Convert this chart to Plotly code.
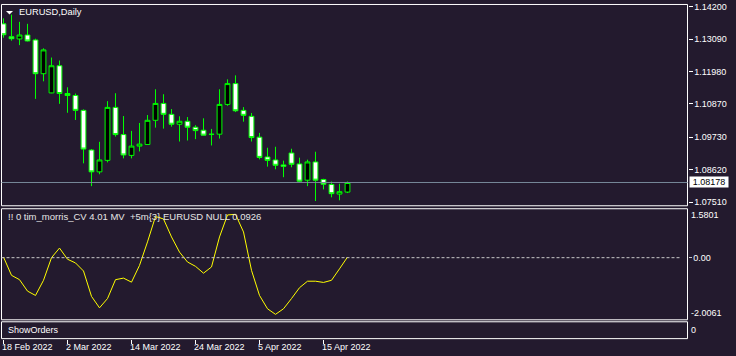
import plotly.graph_objects as go

W, H = 736, 356

dates = ["2022-02-18", "2022-02-21", "2022-02-22", "2022-02-23", "2022-02-24", "2022-02-25",
         "2022-02-28", "2022-03-01", "2022-03-02", "2022-03-03", "2022-03-04", "2022-03-07",
         "2022-03-08", "2022-03-09", "2022-03-10", "2022-03-11", "2022-03-14", "2022-03-15",
         "2022-03-16", "2022-03-17", "2022-03-18", "2022-03-21", "2022-03-22", "2022-03-23",
         "2022-03-24", "2022-03-25", "2022-03-28", "2022-03-29", "2022-03-30", "2022-03-31",
         "2022-04-01", "2022-04-04", "2022-04-05", "2022-04-06", "2022-04-07", "2022-04-08",
         "2022-04-11", "2022-04-12", "2022-04-13", "2022-04-14", "2022-04-15", "2022-04-18",
         "2022-04-19", "2022-04-20"]

opens = [1.13612, 1.13171, 1.13093, 1.13229, 1.13059, 1.11904, 1.11246, 1.12176, 1.11225, 1.11157,
         1.10648, 1.09290, 1.08542, 1.08936, 1.10750, 1.09819, 1.09106, 1.09425, 1.09480, 1.10308,
         1.10886, 1.10512, 1.10173, 1.10274, 1.10071, 1.09969, 1.09833, 1.09833, 1.10852, 1.11565,
         1.10648, 1.10444, 1.09731, 1.09052, 1.08950, 1.08780, 1.09188, 1.08814, 1.08257, 1.08882,
         1.08281, 1.08111, 1.07782, 1.07850]
highs = [1.13799, 1.13928, 1.13680, 1.13612, 1.13103, 1.12774, 1.12458, 1.12356, 1.11439, 1.11225,
         1.10682, 1.09323, 1.09571, 1.10964, 1.11235, 1.10454, 1.09945, 1.10217, 1.10488, 1.11371,
         1.11201, 1.10692, 1.10444, 1.10420, 1.10139, 1.10376, 1.10013, 1.11371, 1.11711, 1.11847,
         1.10760, 1.10556, 1.09877, 1.09368, 1.09402, 1.08926, 1.09334, 1.09028, 1.08960, 1.09232,
         1.08305, 1.08213, 1.08135, 1.08213]
lows = [1.13137, 1.13035, 1.12882, 1.13008, 1.11042, 1.11643, 1.11235, 1.10872, 1.10566, 1.10319,
        1.08834, 1.08053, 1.08461, 1.08868, 1.09751, 1.09004, 1.09004, 1.09242, 1.09470, 1.10057,
        1.10023, 1.10091, 1.09582, 1.09616, 1.09663, 1.09789, 1.09446, 1.09683, 1.10804, 1.10590,
        1.10261, 1.09582, 1.08970, 1.08722, 1.08631, 1.08359, 1.08699, 1.08179, 1.08053, 1.07544,
        1.07941, 1.07670, 1.07568, 1.07816]
closes = [1.13239, 1.13103, 1.13229, 1.13025, 1.11904, 1.12719, 1.12176, 1.11225, 1.11157, 1.10648,
          1.09323, 1.08542, 1.08950, 1.10750, 1.09819, 1.09120, 1.09425, 1.09493, 1.10308, 1.10886,
          1.10512, 1.10173, 1.10274, 1.10071, 1.09955, 1.09799, 1.09826, 1.10852, 1.11565, 1.10634,
          1.10478, 1.09717, 1.09038, 1.08936, 1.08767, 1.08733, 1.08801, 1.08223, 1.08882, 1.08257,
          1.08121, 1.07795, 1.07863, 1.08178]

cv_values = [0.02, -0.57, -0.71, -1.08, -1.22, -0.73, 0.00, 0.31, -0.05, -0.17,
             -0.43, -1.25, -1.62, -1.32, -0.71, -0.66, -0.79, -0.25, 0.51, 1.33,
             1.25, 0.67, 0.18, -0.14, -0.28, -0.50, -0.30, 0.67, 1.38, 1.40,
             0.83, -0.41, -1.22, -1.65, -1.83, -1.65, -1.32, -0.97, -0.76, -0.76,
             -0.80, -0.73, -0.36, 0.02]

price_ticks = [1.14200, 1.13090, 1.11980, 1.10870, 1.09730, 1.08620, 1.07510]
cv_max, cv_min = 1.5801, -2.0061
date_ticks = ["2022-02-18", "2022-03-02", "2022-03-14", "2022-03-24", "2022-04-05", "2022-04-15"]
date_labels = ["18 Feb 2022", "2 Mar 2022", "14 Mar 2022", "24 Mar 2022", "5 Apr 2022", "15 Apr 2022"]
last_price = closes[-1]

BG = "#231a2e"
FONT = "Liberation Sans"
WHITE = "#ffffff"


def px_x(p):
    return p / W


def px_y(p):
    return 1 - p / H


fig = go.Figure()
fig.add_trace(go.Candlestick(
    x=dates, open=opens, high=highs, low=lows, close=closes,
    increasing=dict(line=dict(color="#00ff00", width=1), fillcolor="#000000"),
    decreasing=dict(line=dict(color="#00ff00", width=1), fillcolor="#ffffff"),
    whiskerwidth=0, hoverinfo="skip", xaxis="x", yaxis="y", showlegend=False,
))
fig.add_trace(go.Scatter(
    x=dates, y=cv_values, mode="lines", line=dict(color="#ffff00", width=1),
    xaxis="x", yaxis="y2", hoverinfo="skip", showlegend=False,
))

main_top, main_bot = 2.0, 205.5
ind_top, ind_bot = 208.5, 320.5
so_top, so_bot = 322.5, 339.5
left, right = 1.5, 687.5

ppu = (201.7 - 4.7) / (price_ticks[0] - price_ticks[-1])
y_hi = price_ticks[0] + (4.7 - main_top) / ppu
y_lo = price_ticks[-1] - (main_bot - 201.7) / ppu

tickfont = dict(family=FONT, size=9, color=WHITE)

fig.update_layout(
    width=W, height=H, margin=dict(l=0, r=0, t=0, b=0),
    paper_bgcolor=BG, plot_bgcolor=BG,
    boxgap=0.2, boxgroupgap=0.25,
    xaxis=dict(type="category", domain=[px_x(left), px_x(right)], range=[-0.25, 85.5],
               anchor="free", position=px_y(so_bot), showgrid=False, zeroline=False,
               showline=False, ticks="outside", ticklen=4, tickcolor=WHITE, tickwidth=1,
               tickvals=date_ticks, showticklabels=False, rangeslider=dict(visible=False),
               fixedrange=True),
    yaxis=dict(domain=[px_y(main_bot), px_y(main_top)], range=[y_lo, y_hi], side="right",
               anchor="x", showgrid=False, zeroline=False, showline=False,
               tickvals=price_ticks, ticktext=[f"{v:.5f}" for v in price_ticks],
               ticklabeloverflow="allow",
               ticks="outside", ticklen=4, tickcolor=WHITE, tickfont=tickfont, fixedrange=True),
    yaxis2=dict(domain=[px_y(ind_bot), px_y(ind_top)], range=[cv_min, cv_max], side="right",
                anchor="x", showgrid=False, zeroline=False, showline=False,
                tickvals=[0], ticktext=["0.00"], ticks="outside", ticklen=3,
                tickcolor="#c8c8c8", tickfont=tickfont, fixedrange=True),
)

shapes = []
for t, b in [(main_top + 0.5, main_bot), (ind_top, ind_bot), (so_top, so_bot)]:
    shapes.append(dict(type="rect", xref="paper", yref="paper", x0=px_x(left), x1=px_x(right),
                       y0=px_y(b), y1=px_y(t), line=dict(color=WHITE, width=1)))
shapes.append(dict(type="line", xref="paper", yref="y", x0=px_x(left), x1=px_x(right),
                   y0=last_price, y1=last_price, line=dict(color="#778899", width=1)))
shapes.append(dict(type="line", xref="paper", yref="y2", x0=px_x(left), x1=px_x(right - 6),
                   y0=0, y1=0, line=dict(color="#c8c8c8", width=1, dash="3px,2px")))
shapes.append(dict(type="path", xref="paper", yref="paper",
                   path=f"M {px_x(6)},{px_y(9)} L {px_x(13)},{px_y(9)} L {px_x(9.5)},{px_y(12.5)} Z",
                   fillcolor=WHITE, line=dict(color=WHITE, width=0)))
fig.update_layout(shapes=shapes)

ann = []
ann.append(dict(text="EURUSD,Daily", xref="paper", yref="paper", x=px_x(17), y=px_y(10.5),
                xanchor="left", yanchor="middle", showarrow=False,
                font=dict(family=FONT, size=9.3, color=WHITE)))
ann.append(dict(text="!! 0 tim_morris_CV 4.01 MV  +5m{3} EURUSD NULL 0.0926", xref="paper",
                yref="paper", x=px_x(6), y=px_y(216.5), xanchor="left", yanchor="middle",
                showarrow=False, font=dict(family=FONT, size=9.5, color="#e6e6e6")))
ann.append(dict(text="ShowOrders", xref="paper", yref="paper", x=px_x(6), y=px_y(331),
                xanchor="left", yanchor="middle", showarrow=False,
                font=dict(family=FONT, size=9, color=WHITE)))
ann.append(dict(text=f"{cv_max:.4f}", xref="paper", yref="paper", x=px_x(689), y=px_y(215),
                xanchor="left", yanchor="middle", showarrow=False, font=tickfont))
ann.append(dict(text=f"{cv_min:.4f}", xref="paper", yref="paper", x=px_x(689), y=px_y(313.5),
                xanchor="left", yanchor="middle", showarrow=False, font=tickfont))
ann.append(dict(text="0", xref="paper", yref="paper", x=px_x(689), y=px_y(331),
                xanchor="left", yanchor="middle", showarrow=False, font=tickfont))
ann.append(dict(text=f"{last_price:.5f}", xref="paper", yref="y", x=px_x(689), y=last_price,
                xanchor="left", yanchor="middle", showarrow=False, bgcolor=WHITE,
                width=38, height=10, borderpad=0,
                font=dict(family=FONT, size=9, color="#000000")))
for d, lab in zip(date_ticks, date_labels):
    ann.append(dict(text=lab, xref="x", yref="paper", x=d, y=px_y(347.5), xanchor="left",
                    yanchor="middle", xshift=-3.5, showarrow=False, font=tickfont))
fig.update_layout(annotations=ann)

fig.write_html("out.html")
